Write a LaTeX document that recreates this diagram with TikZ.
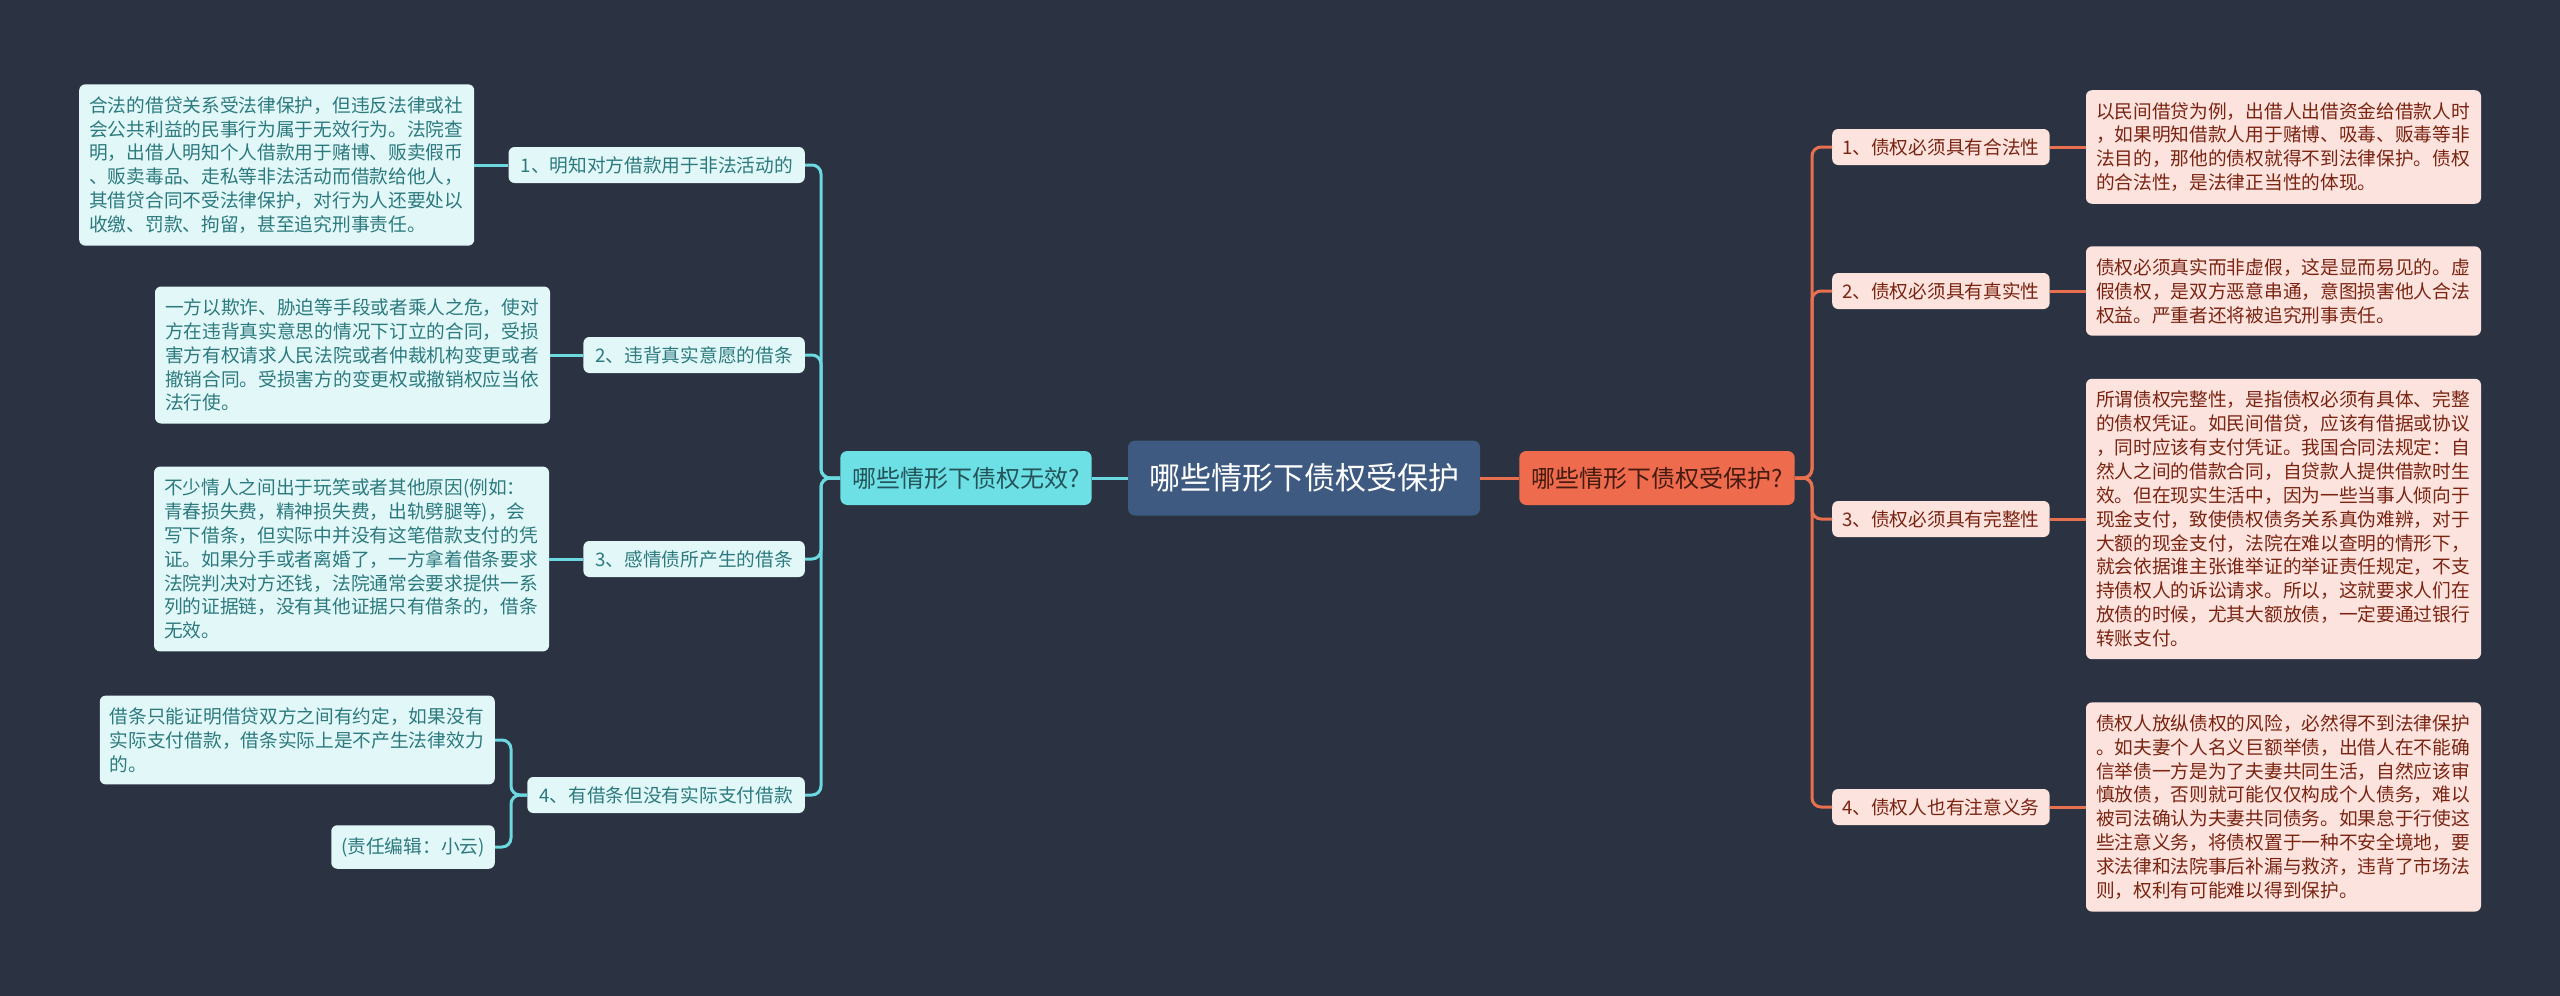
\documentclass[tikz,border=0pt]{standalone}
\usepackage{fontspec}
\setmainfont{Noto Sans CJK SC}
\usetikzlibrary{positioning}

\definecolor{bgdark}{HTML}{2B3342}
\definecolor{rootblue}{HTML}{3E5A80}
\definecolor{cyanmain}{HTML}{6CE0E4}
\definecolor{cyanline}{HTML}{6CD8DF}
\definecolor{cyanpale}{HTML}{E2F7F8}
\definecolor{cyantext}{HTML}{2C7A7E}
\definecolor{cyandark}{HTML}{24545A}
\definecolor{redmain}{HTML}{EE6C4D}
\definecolor{redline}{HTML}{E8704F}
\definecolor{redpale}{HTML}{FCE3DD}
\definecolor{redtext}{HTML}{7A2412}
\definecolor{reddark}{HTML}{451A10}

\begin{document}
\begin{tikzpicture}[x=1pt, y=-1pt, node distance=34pt,
  conn/.style={line width=3pt, rounded corners=9pt},
  lconn/.style={conn, draw=cyanline},
  rconn/.style={conn, draw=redline},
  leafbase/.style={rounded corners=6pt, align=left, inner xsep=10pt, inner ysep=12pt, font=\fontsize{18.7}{23.9}\selectfont},
  leaf/.style={leafbase, text width=375pt},
  sub/.style={rounded corners=6pt, minimum height=36pt, inner xsep=12pt, inner ysep=0pt, font=\fontsize{18.7}{22}\selectfont},
  lsub/.style={sub, fill=cyanpale, text=cyantext, anchor=east},
  rsub/.style={sub, inner xsep=10pt, fill=redpale, text=redtext, anchor=west},
  main/.style={rounded corners=7pt, minimum height=54pt, inner xsep=12pt, font=\fontsize{24}{28}\selectfont},
  root/.style={rounded corners=7pt, fill=rootblue, text=white, minimum height=75pt, inner xsep=21pt, font=\fontsize{31}{36}\selectfont}]

	\fill[bgdark] (0,0) rectangle (2560,996);

	\node[root] (root) at (1304,478) {哪些情形下债权受保护};
	\node[main, fill=cyanmain, text=cyandark] (lmain) at (966,478) {哪些情形下债权无效?};
	\node[main, fill=redmain, text=reddark] (rmain) at (1657,478) {哪些情形下债权受保护?};

	% left branch
	\node[lsub] (l1) at (805,165) {1、明知对方借款用于非法活动的};
	\node[lsub] (l2) at (805,355) {2、违背真实意愿的借条};
	\node[lsub] (l3) at (805,559) {3、感情债所产生的借条};
	\node[lsub] (l4) at (805,795) {4、有借条但没有实际支付借款};

	\node[leaf, fill=cyanpale, text=cyantext, left=of l1] (t1) {合法的借贷关系受法律保护，但违反法律或社\\会公共利益的民事行为属于无效行为。法院查\\明，出借人明知个人借款用于赌博、贩卖假币\\、贩卖毒品、走私等非法活动而借款给他人，\\其借贷合同不受法律保护，对行为人还要处以\\收缴、罚款、拘留，甚至追究刑事责任。};
	\node[leaf, fill=cyanpale, text=cyantext, left=33pt of l2] (t2) {一方以欺诈、胁迫等手段或者乘人之危，使对\\方在违背真实意思的情况下订立的合同，受损\\害方有权请求人民法院或者仲裁机构变更或者\\撤销合同。受损害方的变更权或撤销权应当依\\法行使。};
	\node[leaf, fill=cyanpale, text=cyantext, left=of l3] (t3) {不少情人之间出于玩笑或者其他原因(例如：\\青春损失费，精神损失费，出轨劈腿等)，会\\写下借条，但实际中并没有这笔借款支付的凭\\证。如果分手或者离婚了，一方拿着借条要求\\法院判决对方还钱，法院通常会要求提供一系\\列的证据链，没有其他证据只有借条的，借条\\无效。};
	\node[leaf, fill=cyanpale, text=cyantext, anchor=east] (t4a) at (495,740) {借条只能证明借贷双方之间有约定，如果没有\\实际支付借款，借条实际上是不产生法律效力\\的。};
	\node[leafbase, fill=cyanpale, text=cyantext, anchor=east] (t4b) at (495,847) {(责任编辑：小云)};

	% right branch
	\node[rsub] (r1) at (1832,147) {1、债权必须具有合法性};
	\node[rsub] (r2) at (1832,291) {2、债权必须具有真实性};
	\node[rsub] (r3) at (1832,519) {3、债权必须具有完整性};
	\node[rsub] (r4) at (1832,807) {4、债权人也有注意义务};

	\node[leaf, fill=redpale, text=redtext, right=36pt of r1] (rt1) {以民间借贷为例，出借人出借资金给借款人时\\，如果明知借款人用于赌博、吸毒、贩毒等非\\法目的，那他的债权就得不到法律保护。债权\\的合法性，是法律正当性的体现。};
	\node[leaf, fill=redpale, text=redtext, right=36pt of r2] (rt2) {债权必须真实而非虚假，这是显而易见的。虚\\假债权，是双方恶意串通，意图损害他人合法\\权益。严重者还将被追究刑事责任。};
	\node[leaf, fill=redpale, text=redtext, right=36pt of r3] (rt3) {所谓债权完整性，是指债权必须有具体、完整\\的债权凭证。如民间借贷，应该有借据或协议\\，同时应该有支付凭证。我国合同法规定：自\\然人之间的借款合同，自贷款人提供借款时生\\效。但在现实生活中，因为一些当事人倾向于\\现金支付，致使债权债务关系真伪难辨，对于\\大额的现金支付，法院在难以查明的情形下，\\就会依据谁主张谁举证的举证责任规定，不支\\持债权人的诉讼请求。所以，这就要求人们在\\放债的时候，尤其大额放债，一定要通过银行\\转账支付。};
	\node[leaf, fill=redpale, text=redtext, right=36pt of r4] (rt4) {债权人放纵债权的风险，必然得不到法律保护\\。如夫妻个人名义巨额举债，出借人在不能确\\信举债一方是为了夫妻共同生活，自然应该审\\慎放债，否则就可能仅仅构成个人债务，难以\\被司法确认为夫妻共同债务。如果怠于行使这\\些注意义务，将债权置于一种不安全境地，要\\求法律和法院事后补漏与救济，违背了市场法\\则，权利有可能难以得到保护。};

	\coordinate (ltrunk) at (821,478);
	\coordinate (rtrunk) at (1812,478);
	\coordinate (l4trunk) at (511,795);

	\draw[lconn] (root.west) -- (lmain.east);
	\draw[rconn] (root.east) -- (rmain.west);
	\foreach \n in {l1,l2,l3,l4}
		\draw[lconn] (lmain.west) -- (ltrunk) |- (\n.east);
	\foreach \n in {r1,r2,r3,r4}
		\draw[rconn] (rmain.east) -- (rtrunk) |- (\n.west);
	\foreach \n/\m in {l1/t1,l2/t2,l3/t3}
		\draw[lconn] (\n.west) -- (\m.east);
	\draw[lconn] (l4.west) -- (l4trunk) |- (t4a.east);
	\draw[lconn] (l4.west) -- (l4trunk) |- (t4b.east);
	\foreach \n/\m in {r1/rt1,r2/rt2,r3/rt3,r4/rt4}
		\draw[rconn] (\n.east) -- (\m.west);
\end{tikzpicture}
\end{document}
